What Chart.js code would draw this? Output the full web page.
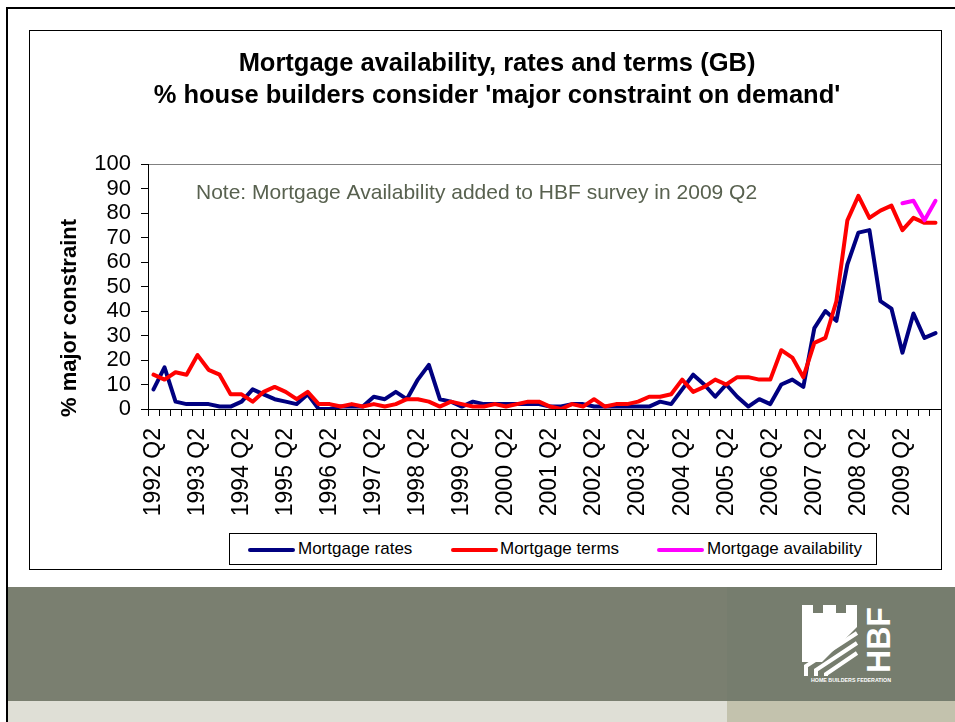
<!DOCTYPE html>
<html>
<head>
<meta charset="utf-8">
<script src="https://cdn.jsdelivr.net/npm/chart.js@4.4.1/dist/chart.umd.min.js"></script>
<style>
    body {
        margin: 0;
        width: 955px;
        height: 722px;
        overflow: hidden;
        background: #ffffff;
        position: relative;
        font-family: "Liberation Sans", Arial, sans-serif;
    }
    .frame {
        position: absolute;
        left: 6px;
        top: 7px;
        width: 970px;
        height: 740px;
        border: 2px solid #000;
    }
    .band {
        position: absolute;
        left: 8px;
        top: 587px;
        width: 719px;
        height: 114px;
        background: #7a7f70;
    }
    .band.right {
        left: 727px;
        width: 228px;
        background: #767d6e;
    }
    .strip {
        position: absolute;
        left: 8px;
        top: 701px;
        width: 719px;
        height: 21px;
        background: #dfdfd6;
    }
    .strip.right {
        left: 727px;
        width: 228px;
        background: #c3c2ad;
    }
    .chartBox {
        position: absolute;
        left: 29px;
        top: 30px;
        width: 913px;
        height: 540px;
        border: 1px solid #000;
        box-sizing: border-box;
        background: #fff;
    }
    .legend {
        position: absolute;
        left: 229px;
        top: 533px;
        width: 648px;
        height: 32px;
        border: 1px solid #000;
        box-sizing: border-box;
        background: #fff;
        font-size: 17px;
        color: #000;
    }
    .legend span {
        position: absolute;
        top: 5px;
        white-space: nowrap;
    }
    .legend i {
        position: absolute;
        top: 14px;
        width: 47px;
        height: 4px;
        border-radius: 2px;
    }
    .logo {
        position: absolute;
        left: 800px;
        top: 600px;
    }
</style>
</head>
<body>
<div class="frame"></div>
<div class="band"></div>
<div class="band right"></div>
<div class="strip"></div>
<div class="strip right"></div>

<div class="chartBox">
    <canvas id="mortgageChart" width="911" height="538"></canvas>
</div>

<div class="legend">
    <i style="left: 18px; background: #000080;"></i><span style="left: 68px;">Mortgage rates</span>
    <i style="left: 221px; background: #ff0000;"></i><span style="left: 270px;">Mortgage terms</span>
    <i style="left: 427px; background: #ff00ff;"></i><span style="left: 477px;">Mortgage availability</span>
</div>

<svg class="logo" width="96" height="90" viewBox="0 0 96 90">
    <g fill="#ffffff">
        <path d="M2,5 h11 v8 h10 v-8 h13 v8 h10 v-8 h11 v22 L22,62 L2,62 Z"/>
        <text x="0" y="0" transform="translate(90,73) rotate(-90)" font-family="Liberation Sans, Arial, sans-serif" font-weight="bold" font-size="34" textLength="66" lengthAdjust="spacingAndGlyphs">HBF</text>
        <text x="11" y="82" font-family="Liberation Sans, Arial, sans-serif" font-weight="bold" font-size="5.5" textLength="80" lengthAdjust="spacingAndGlyphs">HOME BUILDERS FEDERATION</text>
    </g>
    <g fill="none" stroke="#ffffff" stroke-width="4">
        <path d="M6,76 V66 L57,33"/>
        <path d="M16,76 V70 L57,43"/>
        <path d="M26,76 V74 L57,53"/>
    </g>
</svg>

<script>
const quarters = [
    "1992 Q2", "1992 Q3", "1992 Q4", "1993 Q1", "1993 Q2", "1993 Q3", "1993 Q4", "1994 Q1",
    "1994 Q2", "1994 Q3", "1994 Q4", "1995 Q1", "1995 Q2", "1995 Q3", "1995 Q4", "1996 Q1",
    "1996 Q2", "1996 Q3", "1996 Q4", "1997 Q1", "1997 Q2", "1997 Q3", "1997 Q4", "1998 Q1",
    "1998 Q2", "1998 Q3", "1998 Q4", "1999 Q1", "1999 Q2", "1999 Q3", "1999 Q4", "2000 Q1",
    "2000 Q2", "2000 Q3", "2000 Q4", "2001 Q1", "2001 Q2", "2001 Q3", "2001 Q4", "2002 Q1",
    "2002 Q2", "2002 Q3", "2002 Q4", "2003 Q1", "2003 Q2", "2003 Q3", "2003 Q4", "2004 Q1",
    "2004 Q2", "2004 Q3", "2004 Q4", "2005 Q1", "2005 Q2", "2005 Q3", "2005 Q4", "2006 Q1",
    "2006 Q2", "2006 Q3", "2006 Q4", "2007 Q1", "2007 Q2", "2007 Q3", "2007 Q4", "2008 Q1",
    "2008 Q2", "2008 Q3", "2008 Q4", "2009 Q1", "2009 Q2", "2009 Q3", "2009 Q4", "2010 Q1",
];

// % of house builders reporting each factor as a major constraint
const mortgageRates = [
    8, 17, 3, 2, 2, 2, 1, 1, 3, 8, 6, 4, 3, 2, 6, 0, 0, 1, 1, 1,
    5, 4, 7, 4, 12, 18, 4, 3, 1, 3, 2, 2, 2, 2, 2, 2, 1, 1, 2, 2,
    1, 1, 1, 1, 1, 1, 3, 2, 8, 14, 10, 5, 10, 5, 1, 4, 2, 10, 12, 9,
    33, 40, 36, 59, 72, 73, 44, 41, 23, 39, 29, 31,
];

const mortgageTerms = [
    14, 12, 15, 14, 22, 16, 14, 6, 6, 3, 7, 9, 7, 4, 7, 2, 2, 1, 2, 1,
    2, 1, 2, 4, 4, 3, 1, 3, 2, 1, 1, 2, 1, 2, 3, 3, 1, 0, 2, 1,
    4, 1, 2, 2, 3, 5, 5, 6, 12, 7, 9, 12, 10, 13, 13, 12, 12, 24, 21, 13,
    27, 29, 44, 77, 87, 78, 81, 83, 73, 78, 76, 76,
];

// availability was only asked from 2009 Q2 onwards
const availabilityQuarters = ["2009 Q2", "2009 Q3", "2009 Q4", "2010 Q1"];
const mortgageAvailability = [84, 85, 77, 85];

const yTicks = [0, 10, 20, 30, 40, 50, 60, 70, 80, 90, 100];

const chartTitle = [
    "Mortgage availability, rates and terms (GB)",
    "% house builders consider 'major constraint on demand'",
];
const yTitle = "% major constraint";
const noteText = "Note: Mortgage Availability added to HBF survey in 2009 Q2";

const FONT = "'Liberation Sans', Arial, sans-serif";

// note inside the plot and the rotated y axis title
const extraText = {
    id: "extraText",
    afterDraw(chart) {
        const ctx = chart.ctx;
        const area = chart.chartArea;

        ctx.save();
        ctx.fillStyle = "#58614f";
        ctx.font = `21px ${FONT}`;
        ctx.textAlign = "left";
        ctx.textBaseline = "alphabetic";
        ctx.fillText(noteText, area.left + 48, area.top + 35);
        ctx.restore();

        ctx.save();
        ctx.fillStyle = "#000";
        ctx.font = `bold 22px ${FONT}`;
        ctx.textAlign = "center";
        ctx.textBaseline = "middle";
        ctx.translate(40, 287);
        ctx.rotate(-Math.PI / 2);
        ctx.fillText(yTitle, 0, 0);
        ctx.restore();
    },
};

const canvas = document.getElementById("mortgageChart");

new Chart(canvas, {
    type: "line",
    data: {
        labels: quarters,
        datasets: [
            {
                label: "Mortgage rates",
                data: mortgageRates,
                borderColor: "#000080",
                order: 3,
            },
            {
                label: "Mortgage terms",
                data: mortgageTerms,
                borderColor: "#ff0000",
                order: 2,
            },
            {
                label: "Mortgage availability",
                data: availabilityQuarters.map((q, i) => ({ x: q, y: mortgageAvailability[i] })),
                borderColor: "#ff00ff",
                order: 1,
            },
        ],
    },
    options: {
        responsive: false,
        animation: false,
        events: [],
        layout: {
            padding: { left: 23, right: 0, top: 0, bottom: 0 },
        },
        elements: {
            line: {
                borderWidth: 4,
                tension: 0,
                fill: false,
                borderJoinStyle: "round",
                borderCapStyle: "round",
            },
            point: { radius: 0 },
        },
        plugins: {
            legend: { display: false },
            tooltip: { enabled: false },
            title: {
                display: true,
                text: chartTitle,
                color: "#000",
                font: { family: FONT, size: 25.5, weight: "bold", lineHeight: 1.255 },
                padding: { top: 17, bottom: 52 },
            },
        },
        scales: {
            x: {
                type: "category",
                offset: true,
                border: { color: "#000", width: 1 },
                grid: {
                    offset: true,
                    drawOnChartArea: false,
                    tickLength: 7,
                    tickColor: "#000",
                },
                ticks: {
                    autoSkip: false,
                    maxRotation: 90,
                    minRotation: 90,
                    padding: 12,
                    color: "#000",
                    font: { family: FONT, size: 23 },
                    callback: (value, index) => (index % 4 === 0 ? quarters[index] : ""),
                },
                afterFit: scale => {
                    scale.height = 160;
                    scale.paddingLeft = 0;
                    scale.paddingRight = 0;
                },
            },
            y: {
                min: 0,
                max: 100,
                border: { color: "#000", width: 1 },
                grid: {
                    color: ctx => (ctx.tick && ctx.tick.value === 100 ? "#808080" : "rgba(0,0,0,0)"),
                    tickColor: "#000",
                    tickLength: 7,
                },
                afterBuildTicks: scale => {
                    scale.ticks = yTicks.map(v => ({ value: v }));
                },
                ticks: {
                    autoSkip: false,
                    padding: 10,
                    color: "#000",
                    font: { family: FONT, size: 22, lineHeight: 1 },
                },
                afterFit: scale => {
                    scale.width = 95;
                    scale.paddingTop = 0;
                    scale.paddingBottom = 0;
                },
            },
        },
    },
    plugins: [extraText],
});
</script>
</body>
</html>
